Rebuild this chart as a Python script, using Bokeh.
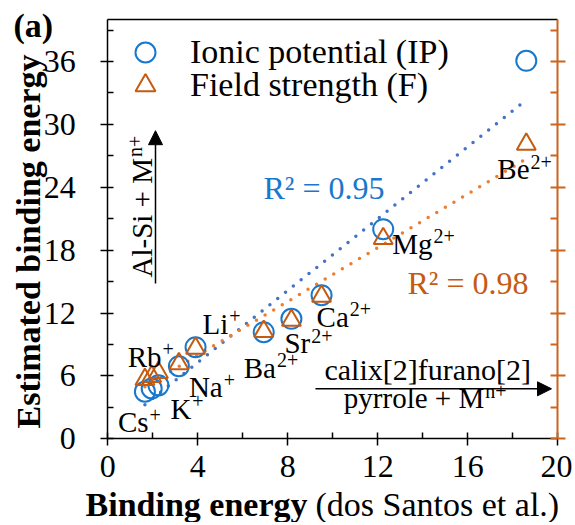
import numpy as np
from bokeh.plotting import figure
from bokeh.models import (Label, Arrow, NormalHead, Legend, LegendItem,
                          FixedTicker, LinearAxis)
from bokeh.embed import file_html
from bokeh.resources import INLINE

# ---------------- data ----------------
ions = ["Cs", "Rb", "K", "Na", "Li", "Ba", "Sr", "Ca", "Mg", "Be"]
charges = ["+", "+", "+", "+", "+", "2+", "2+", "2+", "2+", "2+"]
binding_energy = [1.65, 1.95, 2.25, 3.16, 3.9, 6.93, 8.16, 9.5, 12.24, 18.6]
ip_estimate = [4.5, 4.8, 5.1, 6.93, 8.74, 10.17, 11.45, 13.7, 20.0, 36.07]
f_estimate = [5.66, 5.95, 6.33, 7.16, 8.65, 10.24, 11.3, 13.6, 19.1, 28.1]
x_ticks = [0, 4, 8, 12, 16, 20]
y_ticks = [0, 6, 12, 18, 24, 30, 36]
r2_ip = "0.95"
r2_f = "0.98"

# ---------------- styles ----------------
FONT = "'Liberation Serif', 'Times New Roman', serif"
BLUE = "#1878CC"
BLUE_LINE = "#4472C4"
ORANGE = "#C55A11"
ORANGE_LINE = "#ED7D31"
AXIS_ORANGE = "#CC631E"

W, H = 572, 522
X0_PX, X_SCALE = 107.3, 22.5     # pixel of x=0, pixels per x unit
Y0_PX, Y_SCALE = 438.3, 10.48    # pixel of y=0, pixels per y unit
BASE_FIX = 0.3                   # baseline correction (fraction of font size)

# Times-like advance widths (per 1000 em) used to place superscripts
CW = {"C": 667, "s": 389, "R": 667, "b": 500, "K": 722, "N": 722, "a": 444,
      "L": 611, "i": 278, "B": 667, "S": 556, "r": 333, "M": 889, "g": 500,
      "e": 444, "A": 722, "l": 278, "-": 333, " ": 250, "+": 564, "p": 500,
      "y": 500, "o": 500}


def text_width(s, size):
    return sum(CW.get(c, 500) for c in s) * size / 1000.0


def add_text(x, y, text, size, dx=0.0, dy=0.0, color="black", bold=False,
             vertical=False, align="left"):
    if vertical:
        xo, yo = dx - BASE_FIX * size, dy
    else:
        xo, yo = dx, dy + BASE_FIX * size
    p.add_layout(Label(x=x, y=y, x_offset=xo, y_offset=yo, text=text,
                       angle=np.pi / 2 if vertical else 0,
                       text_font=FONT, text_font_size=f"{size}px",
                       text_font_style="bold" if bold else "normal",
                       text_color=color, text_baseline="alphabetic",
                       text_align=align))


x_range = (-X0_PX / X_SCALE, (W - X0_PX) / X_SCALE)
y_range = ((Y0_PX - H) / Y_SCALE, Y0_PX / Y_SCALE)

p = figure(width=W, height=H, x_range=x_range, y_range=y_range,
           output_backend="svg", toolbar_location=None,
           min_border_left=0, min_border_right=0, min_border_top=0,
           min_border_bottom=0)
p.outline_line_color = None
p.xgrid.visible = False
p.ygrid.visible = False
p.background_fill_color = "white"

# axes (fixed at the data box edges)
xa, ya = p.xaxis[0], p.yaxis[0]
xa.ticker = FixedTicker(ticks=x_ticks, minor_ticks=[t + 2 for t in x_ticks[:-1]])
ya.ticker = FixedTicker(ticks=y_ticks, minor_ticks=[t + 3 for t in y_ticks])
xa.fixed_location = 0
ya.fixed_location = 0
xa.bounds = (x_ticks[0], x_ticks[-1])
ya.bounds = (0, 40)
for ax in (xa, ya):
    ax.axis_line_color = "black"
    ax.axis_line_width = 1.5
    ax.major_tick_line_color = "black"
    ax.major_tick_line_width = 1.5
    ax.minor_tick_line_color = "black"
    ax.minor_tick_line_width = 1.5
    ax.major_tick_in = 6
    ax.major_tick_out = 7
    ax.minor_tick_in = 6
    ax.minor_tick_out = 0
    ax.major_label_text_font = FONT
    ax.major_label_text_font_size = "32px"
    ax.major_label_text_color = "black"
xa.major_label_standoff = 10
ya.major_label_standoff = 25

# right axis: orange, ticks only (drawn as two minor-tick layers, no labels)
for ticks, t_in, t_out, show_line in ((y_ticks, 7, 8, True),
                                      ([t + 3 for t in y_ticks], 7, 0, False)):
    ra = LinearAxis(ticker=FixedTicker(ticks=[], minor_ticks=ticks),
                    fixed_location=x_ticks[-1], bounds=(0, 40))
    ra.axis_line_color = AXIS_ORANGE if show_line else None
    ra.axis_line_width = 2
    ra.minor_tick_line_color = AXIS_ORANGE
    ra.minor_tick_line_width = 2
    ra.minor_tick_in = t_in
    ra.minor_tick_out = t_out
    ra.major_tick_in = 0
    ra.major_tick_out = 0
    p.add_layout(ra, "right")

top = LinearAxis(ticker=FixedTicker(ticks=[], minor_ticks=[]),
                 fixed_location=40, bounds=(x_ticks[0], x_ticks[-1]))
top.axis_line_color = "black"
top.axis_line_width = 1.5
top.major_tick_out = 0
top.major_tick_in = 0
p.add_layout(top, "above")

# trend lines (least squares on the data)
x = np.array(binding_energy)
for yv, col in ((ip_estimate, BLUE_LINE), (f_estimate, ORANGE_LINE)):
    k, b = np.polyfit(x, np.array(yv), 1)
    xs = np.array([x.min(), x.max()])
    p.line(xs, k * xs + b, line_color=col, line_width=3.5,
           line_dash="0 10", line_cap="round")

r_ip = p.scatter(binding_energy, ip_estimate, marker="circle", size=20,
                 fill_color=None, line_color=BLUE, line_width=2)
r_f = p.scatter(binding_energy, f_estimate, marker="triangle", size=19,
                fill_color=None, line_color=ORANGE, line_width=2)

# legend: one box per entry, placed absolutely
for label, rend, top_px in (("Ionic potential (IP)", r_ip, 23),
                            ("Field strength (F)", r_f, 56)):
    lg = Legend(items=[LegendItem(label=label, renderers=[rend])],
                location=(111, H - top_px - 54), glyph_width=68,
                glyph_height=50, spacing=0, padding=2, margin=0,
                label_standoff=11, label_text_font=FONT,
                label_text_font_size="34px", label_text_color="black",
                border_line_color=None, background_fill_alpha=0)
    p.add_layout(lg)

# ion labels with superscript charges
ION_SIZE = 29
SUP_SIZE = 20
offsets = {"Cs": (-27, -39), "Rb": (-24, 23), "K": (12, -32), "Na": (10, -30),
           "Li": (7, 15), "Ba": (-20, -44), "Sr": (-7, -33), "Ca": (-5, -30),
           "Mg": (9, -23), "Be": (-29, -117)}
for name, ch, xv, yv in zip(ions, charges, binding_energy, ip_estimate):
    dx, dy = offsets[name]
    add_text(xv, yv, name, ION_SIZE, dx, dy)
    add_text(xv, yv, ch, SUP_SIZE, dx + text_width(name, ION_SIZE) + 1, dy + 10)

# R² labels
add_text(6.92, 23.03, f"R² = {r2_ip}", 32, color=BLUE)
add_text(13.32, 13.96, f"R² = {r2_f}", 32, color=ORANGE)

# vertical arrow + "Al-Si + Mn+"
p.add_layout(Arrow(end=NormalHead(size=14, fill_color="black", line_color="black"),
                   x_start=2.12, y_start=14.82, x_end=2.12, y_end=29.4,
                   line_width=1.5, line_color="black"))
add_text(1.90, 15.39, "Al-Si + M", 29, vertical=True)
add_text(1.90, 15.39, "n+", SUP_SIZE, dx=-10,
         dy=text_width("Al-Si + M", 29) + 1, vertical=True)

# horizontal arrow + calix text
p.add_layout(Arrow(end=NormalHead(size=14, fill_color="black", line_color="black"),
                   x_start=9.23, y_start=4.77, x_end=19.72, y_end=4.77,
                   line_width=1.5, line_color="black"))
add_text(9.63, 5.73, "calix[2]furano[2]", 30)
add_text(10.49, 3.08, "pyrrole + M", 29)
add_text(10.49, 3.08, "n+", SUP_SIZE, dx=text_width("pyrrole + M", 29) + 1, dy=10)

# axis titles
add_text(-0.99, -7.22, "Binding energy", 34, bold=True)
add_text(-0.99, -7.22, "(dos Santos et al.)", 34, dx=230)
add_text(-3.08, 18.83, "Estimated binding energy", 34, bold=True,
         vertical=True, align="center")

# panel tag
add_text(-4.19, 38.48, "(a)", 34, bold=True)

open("out.html", "w").write(file_html(p, INLINE))
